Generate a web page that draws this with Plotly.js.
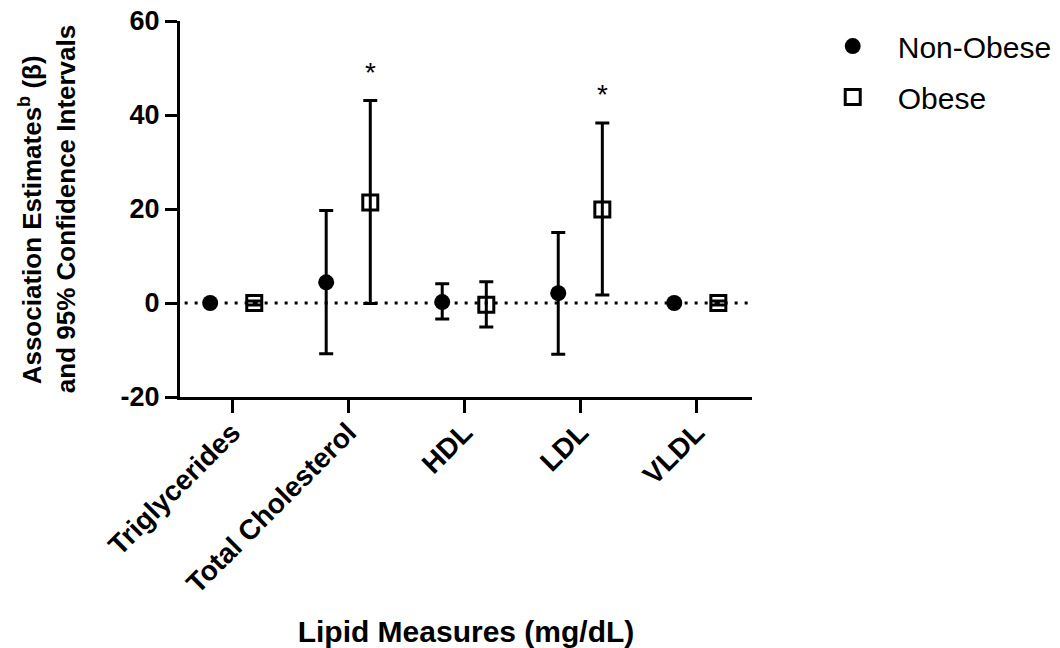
<!DOCTYPE html>
<html><head><meta charset="utf-8">
<script src="https://cdn.plot.ly/plotly-3.0.1.min.js"></script>
<style>body{margin:0;background:#fff}#chart{width:1060px;height:648px}</style>
</head><body><div id="chart"></div>
<script>
const categories = ["Triglycerides", "Total Cholesterol", "HDL", "LDL", "VLDL"];
const nonObeseEst = [0, 4.4, 0.2, 2.1, 0];
const nonObeseLow = [0, -10.8, -3.4, -10.9, 0];
const nonObeseHigh = [0, 19.7, 4.1, 15.0, 0];
const obeseEst = [0, 21.4, -0.35, 19.9, 0];
const obeseLow = [-0.4, -0.1, -5.1, 1.7, -0.4];
const obeseHigh = [0.4, 43.1, 4.5, 38.3, 0.4];
const sigMarks = ["", "*", "", "*", ""];
const yTickVals = [-20, 0, 20, 40, 60];
const yTickText = ["-20", "0", "20", "40", "60"];

const idx = categories.map((c, i) => i);
const off = 0.19;
const font = "Liberation Sans, Arial, sans-serif";

const traces = [
  {x: [-0.41, 4.48], y: [0, 0], mode: "lines", line: {color: "#000", width: 3, dash: "3px,7px"},
   showlegend: false, hoverinfo: "skip"},
  {name: "Non-Obese", legendgroup: "a", x: idx.map(i => i - off), y: nonObeseEst, mode: "markers", type: "scatter",
   marker: {symbol: "circle", size: 16, color: "#000"},
   error_y: {type: "data", symmetric: false,
     array: nonObeseHigh.map((h, i) => h - nonObeseEst[i]),
     arrayminus: nonObeseEst.map((e, i) => e - nonObeseLow[i]),
     color: "#000", thickness: 3, width: 7}},
  {name: "Obese", legendgroup: "b", x: idx.map(i => i + off), y: obeseEst, mode: "markers", type: "scatter",
   marker: {symbol: "square-open", size: 15, color: "#000", line: {width: 3, color: "#000"}},
   error_y: {type: "data", symmetric: false,
     array: obeseHigh.map((h, i) => h - obeseEst[i]),
     arrayminus: obeseEst.map((e, i) => e - obeseLow[i]),
     color: "#000", thickness: 3, width: 7}}
];

const annotations = [];
sigMarks.forEach((s, i) => {
  if (s) annotations.push({x: i + off, y: obeseHigh[i] + 6, text: s, showarrow: false,
    font: {family: font, size: 28, color: "#000"}});
});

const layout = {
  width: 1060, height: 648,
  margin: {l: 180, r: 308, t: 21, b: 251},
  paper_bgcolor: "#fff", plot_bgcolor: "#fff",
  showlegend: true,
  legend: {xref: "container", yref: "container", x: 0.762, y: 0.969, xanchor: "left", yanchor: "top",
    itemwidth: 80, font: {family: font, size: 30, color: "#000"}, tracegroupgap: 9},
  xaxis: {range: [-0.45, 4.48], tickvals: idx, ticktext: categories, tickangle: -45,
    showgrid: false, zeroline: false, showline: true, linecolor: "#000", linewidth: 3,
    ticks: "outside", ticklen: 13, tickwidth: 3, tickcolor: "#000", ticklabelstandoff: -8,
    tickfont: {family: font, size: 28, color: "#000", weight: "bold"},
    title: {text: "Lipid Measures (mg/dL)", font: {family: font, size: 30, color: "#000", weight: "bold"}, standoff: 38}},
  yaxis: {range: [-20, 60], tickvals: yTickVals, ticktext: yTickText,
    showgrid: false, zeroline: false, showline: true, linecolor: "#000", linewidth: 3,
    ticks: "outside", ticklen: 12, tickwidth: 3, tickcolor: "#000",
    tickfont: {family: font, size: 27, color: "#000", weight: "bold"},
    title: {text: "Association Estimates<sup>b</sup> (β)&nbsp;&nbsp;&nbsp;<br>and 95% Confidence Intervals",
      font: {family: font, size: 26, color: "#000", weight: "bold"}, standoff: 38}},
  annotations: annotations
};

Plotly.newPlot("chart", traces, layout, {displayModeBar: false, staticPlot: true});
</script></body></html>
